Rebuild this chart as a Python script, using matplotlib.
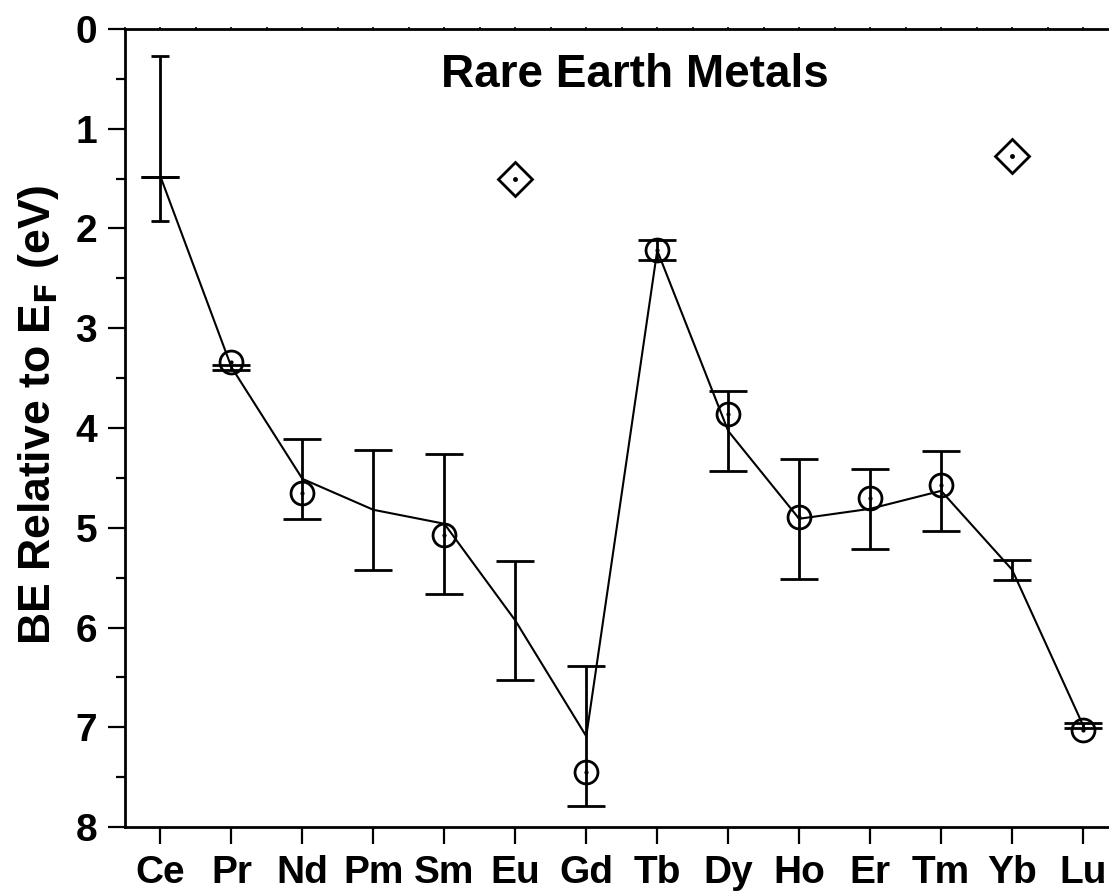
import numpy as np
import matplotlib
matplotlib.use("Agg")
import matplotlib.pyplot as plt
from matplotlib.ticker import MultipleLocator

plt.rcParams['font.family'] = ['Liberation Sans', 'DejaVu Sans']
plt.rcParams['font.weight'] = 'bold'
plt.rcParams['mathtext.default'] = 'bf'

# elements along the x axis
elements = ['Ce', 'Pr', 'Nd', 'Pm', 'Sm', 'Eu', 'Gd', 'Tb', 'Dy', 'Ho', 'Er', 'Tm', 'Yb', 'Lu']

# trend line values with error bars (eV)
line_be = [1.48, 3.39, 4.51, 4.82, 4.96, 5.93, 7.09, 2.22, 4.03, 4.91, 4.81, 4.63, 5.42, 6.98]
line_err = [0.0, 0.025, 0.40, 0.60, 0.70, 0.60, 0.70, 0.10, 0.40, 0.60, 0.40, 0.40, 0.10, 0.027]

# extra range for Ce
ce_center = 1.095
ce_err = 0.825

# open circles (measured points)
circle_be = [np.nan, 3.335, 4.655, np.nan, 5.07, np.nan, 7.445, 2.22, 3.863, 4.895, 4.705, 4.57, np.nan, 7.03]

# open diamonds (divalent Eu and Yb)
diamond_be = [np.nan, np.nan, np.nan, np.nan, np.nan, 1.507, np.nan, np.nan, np.nan, np.nan, np.nan, np.nan, 1.273, np.nan]

x = np.arange(len(elements))

fig = plt.figure(figsize=(11.09, 8.92), dpi=100)
ax = fig.add_axes([125 / 1109, 65 / 892, 993.5 / 1109, 798 / 892])

ax.errorbar(x, line_be, yerr=line_err, color='black', lw=1.5, elinewidth=2.0,
            capsize=13.5, capthick=2.0, zorder=2)
ax.errorbar([x[0]], [ce_center], yerr=[ce_err], color='black', lw=0, elinewidth=2.0,
            capsize=6.3, capthick=2.0, zorder=2)

ax.plot(x, circle_be, 'o', ms=16.5, mfc='none', mec='black', mew=2.0, zorder=3)
ax.plot(x, circle_be, 'o', ms=2, color='black', zorder=3)
ax.plot(x, diamond_be, 'D', ms=17, mfc='none', mec='black', mew=2.0, zorder=3)
ax.plot(x, diamond_be, 'o', ms=2.5, color='black', zorder=3)

ax.set_xlim(-0.5, 13.5)
ax.set_ylim(8, 0)
ax.set_xticks(x)
ax.set_xticklabels(elements)
ax.yaxis.set_major_locator(MultipleLocator(1))
ax.yaxis.set_minor_locator(MultipleLocator(0.5))

for sp in ax.spines.values():
    sp.set_linewidth(2.0)
ax.spines['right'].set_visible(False)

ax.tick_params(axis='x', which='major', bottom=True, top=False, direction='out',
               length=12, width=1.6, labelsize=28, pad=8)
ax.tick_params(axis='y', which='major', direction='out', length=12, width=1.6,
               labelsize=28, pad=8)
ax.tick_params(axis='y', which='minor', direction='out', length=6.5, width=1.6)
ax.tick_params(axis='x', which='minor', bottom=False)

for lab in ax.get_xticklabels() + ax.get_yticklabels():
    lab.set_fontweight('bold')

# tiny ticks along the top spine
top = ax.secondary_xaxis('top')
top.set_xticks(np.arange(-0.5, 13.6, 0.5))
top.tick_params(direction='out', length=1.5, width=1.2, labelsize=0, labeltop=False)
top.spines['top'].set_visible(False)

ax.set_ylabel(r'BE Relative to E$_\mathbf{F}$ (eV)', fontsize=32, fontweight='bold')
ax.yaxis.set_label_coords(-0.064, 0.517)
ax.text(0.513, 0.942, 'Rare Earth Metals', transform=ax.transAxes, ha='center', va='center',
        fontsize=33, fontweight='bold')

fig.savefig('out.png', dpi=100)
